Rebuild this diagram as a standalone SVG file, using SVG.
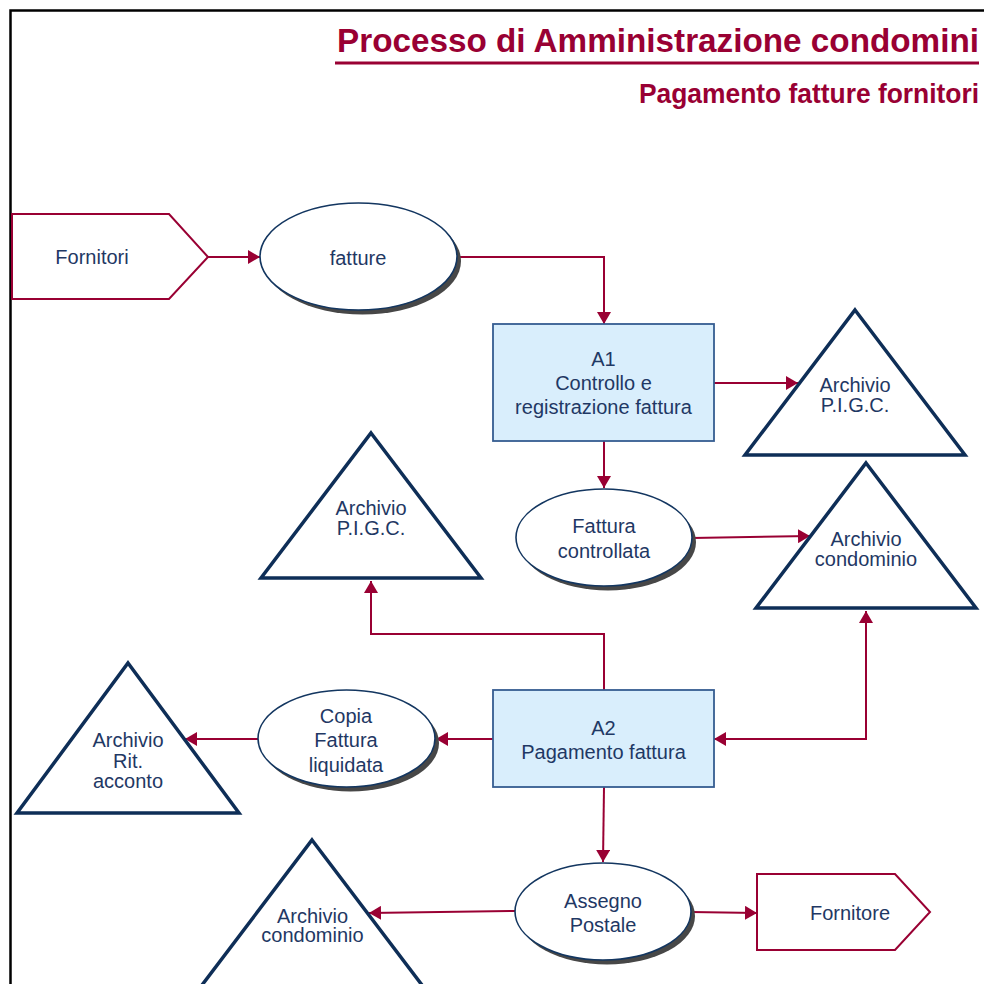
<svg xmlns="http://www.w3.org/2000/svg" width="984" height="984" viewBox="0 0 984 984">
<defs>
<style>
.frame{fill:none;stroke:#000;stroke-width:2.5}
.title{font-family:"Liberation Sans",Arial,sans-serif;font-weight:bold;fill:#990033}
.t{font-family:"Liberation Sans",Arial,sans-serif;font-size:20px;fill:#1F3864;text-anchor:middle}
.ext{fill:#fff;stroke:#990033;stroke-width:2}
.proc{fill:#D9EEFC;stroke:#355C91;stroke-width:1.8}
.ell{fill:#fff;stroke:#133660;stroke-width:1.6}
.shadow{fill:#474747}
.arch{fill:#fff;stroke:#0E2E57;stroke-width:3.5;stroke-linejoin:miter}
.c{fill:none;stroke:#990033;stroke-width:2}
</style>
<marker id="ah" viewBox="0 0 12 14" refX="12" refY="7" markerWidth="12" markerHeight="14" markerUnits="userSpaceOnUse" orient="auto-start-reverse">
<path d="M0,0 L12,7 L0,14 Z" fill="#990033"/>
</marker>
</defs>
<rect x="0" y="0" width="984" height="984" fill="#fff"/>
<rect class="frame" x="10.5" y="10.5" width="1000" height="1000"/>
<g id="title">
<text class="title" x="979" y="52" font-size="34" text-anchor="end" textLength="642" lengthAdjust="spacingAndGlyphs">Processo di Amministrazione condomini</text>
<line x1="335" y1="63" x2="979" y2="63" stroke="#990033" stroke-width="2.8"/>
<text class="title" x="979" y="103" font-size="28" text-anchor="end" textLength="340" lengthAdjust="spacingAndGlyphs">Pagamento fatture fornitori</text>
</g>
<g id="connectors">
<path class="c" d="M208,257 L260,257" marker-end="url(#ah)"/>
<path class="c" d="M457,257 L604,257 L604,324" marker-end="url(#ah)"/>
<path class="c" d="M714,383 L798,383" marker-end="url(#ah)"/>
<path class="c" d="M604,441 L604,488" marker-end="url(#ah)"/>
<path class="c" d="M692,538 L810,536" marker-end="url(#ah)"/>
<path class="c" d="M604,690 L604,634 L371,634 L371,581" marker-end="url(#ah)"/>
<path class="c" d="M714,739 L866,739 L866,611" marker-start="url(#ah)" marker-end="url(#ah)"/>
<path class="c" d="M493,739 L436,739" marker-end="url(#ah)"/>
<path class="c" d="M258,739 L185,739" marker-end="url(#ah)"/>
<path class="c" d="M604,787 L603,862" marker-end="url(#ah)"/>
<path class="c" d="M515,911 L369,913" marker-end="url(#ah)"/>
<path class="c" d="M691,912 L757,913" marker-end="url(#ah)"/>
</g>
<g id="fornitori">
<polygon class="ext" points="12,214 169,214 208,257 169,299 12,299"/>
<text class="t" x="92" y="264">Fornitori</text>
</g>
<g id="fatture">
<ellipse class="shadow" cx="362.5" cy="261" rx="98.5" ry="53.5"/>
<ellipse class="ell" cx="358.5" cy="256.5" rx="98.5" ry="53.5"/>
<text class="t" x="358" y="265">fatture</text>
</g>
<g id="a1">
<rect class="proc" x="493" y="324" width="221" height="117"/>
<text class="t" x="603.5" y="366">A1</text>
<text class="t" x="603.5" y="390">Controllo e</text>
<text class="t" x="603.5" y="414">registrazione fattura</text>
</g>
<g id="archivio-pigc-1">
<polygon class="arch" points="855,310 965,455 745,455"/>
<text class="t" x="855" y="392">Archivio</text>
<text class="t" x="855" y="412">P.I.G.C.</text>
</g>
<g id="fattura-controllata">
<ellipse class="shadow" cx="608" cy="542" rx="88" ry="48.5"/>
<ellipse class="ell" cx="604" cy="537.5" rx="88" ry="48.5"/>
<text class="t" x="604" y="533">Fattura</text>
<text class="t" x="604" y="558">controllata</text>
</g>
<g id="archivio-condominio-1">
<polygon class="arch" points="866,463 976,608 756,608"/>
<text class="t" x="866" y="546">Archivio</text>
<text class="t" x="866" y="566">condominio</text>
</g>
<g id="archivio-pigc-2">
<polygon class="arch" points="371,433 481,578 261,578"/>
<text class="t" x="371" y="515">Archivio</text>
<text class="t" x="371" y="535">P.I.G.C.</text>
</g>
<g id="a2">
<rect class="proc" x="493" y="690" width="221" height="97"/>
<text class="t" x="603.5" y="735">A2</text>
<text class="t" x="603.5" y="759">Pagamento fattura</text>
</g>
<g id="copia-fattura">
<ellipse class="shadow" cx="350.5" cy="743" rx="88.5" ry="48.5"/>
<ellipse class="ell" cx="346.5" cy="738.5" rx="88.5" ry="48.5"/>
<text class="t" x="346" y="723">Copia</text>
<text class="t" x="346" y="747">Fattura</text>
<text class="t" x="346" y="772">liquidata</text>
</g>
<g id="archivio-rit-acconto">
<polygon class="arch" points="128,663 239,813 17,813"/>
<text class="t" x="128" y="747">Archivio</text>
<text class="t" x="128" y="768">Rit.</text>
<text class="t" x="128" y="788">acconto</text>
</g>
<g id="archivio-condominio-2">
<polygon class="arch" points="312,840 425,989 199,989"/>
<text class="t" x="312.5" y="923">Archivio</text>
<text class="t" x="312.5" y="942">condominio</text>
</g>
<g id="assegno-postale">
<ellipse class="shadow" cx="607" cy="916" rx="88" ry="48.5"/>
<ellipse class="ell" cx="603" cy="911.5" rx="88" ry="48.5"/>
<text class="t" x="603" y="908">Assegno</text>
<text class="t" x="603" y="932">Postale</text>
</g>
<g id="fornitore">
<polygon class="ext" points="757,874 895,874 930,912 895,950 757,950"/>
<text class="t" x="850" y="920">Fornitore</text>
</g>
</svg>
